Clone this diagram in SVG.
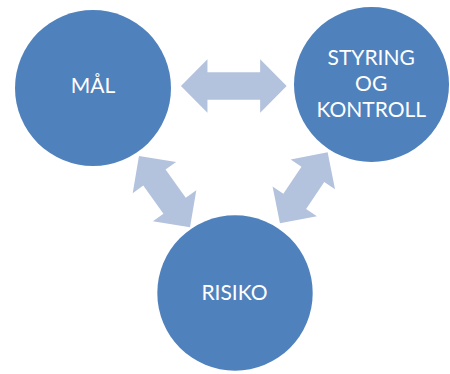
<svg xmlns="http://www.w3.org/2000/svg" width="450" height="374" viewBox="0 0 450 374">
<style>
.node{fill:#4F81BD}
.lbl{fill:#FFFFFF;font-family:Lato,"Liberation Sans",sans-serif;font-size:21px;text-anchor:middle}
.arr{fill:#B3C2DD}
</style>
<rect width="450" height="374" fill="#FFFFFF"/>
<g id="connectors">
<path class="arr" transform="translate(233.8,86)" d="M-52.85,0 L-26.35,-26.7 L-26.35,-13.7 L26.35,-13.7 L26.35,-26.7 L52.85,0 L26.35,26.7 L26.35,13.7 L-26.35,13.7 L-26.35,26.7 Z"/>
<path class="arr" transform="translate(164.5,191.7) rotate(54.4)" d="M-43.85,0 L-17.35,-26.7 L-17.35,-13.7 L17.35,-13.7 L17.35,-26.7 L43.85,0 L17.35,26.7 L17.35,13.7 L-17.35,13.7 L-17.35,26.7 Z"/>
<path class="arr" transform="translate(303.8,187.8) rotate(-56.1)" d="M-42.75,0 L-16.25,-26.7 L-16.25,-13.7 L16.25,-13.7 L16.25,-26.7 L42.75,0 L16.25,26.7 L16.25,13.7 L-16.25,13.7 L-16.25,26.7 Z"/>
</g>
<g id="node-mal">
<circle class="node" cx="93" cy="88" r="78"/>
<text class="lbl" x="93" y="92.7">MÅL</text>
</g>
<g id="node-styring">
<circle class="node" cx="371.5" cy="84.5" r="77.5"/>
<text class="lbl" x="371.2" y="65">STYRING</text>
<text class="lbl" x="371.2" y="91">OG</text>
<text class="lbl" x="371.2" y="116.5">KONTROLL</text>
</g>
<g id="node-risiko">
<circle class="node" cx="235" cy="293" r="77.7"/>
<text class="lbl" x="234.5" y="300">RISIKO</text>
</g>
</svg>
